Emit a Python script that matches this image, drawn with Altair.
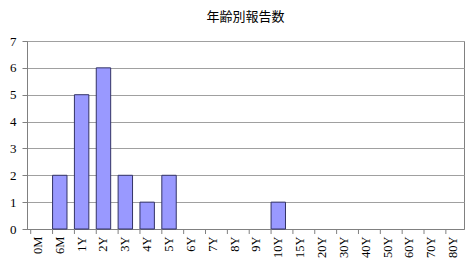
import altair as alt
import pandas as pd

categories = ["0M", "6M", "1Y", "2Y", "3Y", "4Y", "5Y", "6Y", "7Y", "8Y", "9Y", "10Y",
              "15Y", "20Y", "30Y", "40Y", "50Y", "60Y", "70Y", "80Y"]
counts = [0, 2, 5, 6, 2, 1, 2, 0, 0, 0, 0, 1, 0, 0, 0, 0, 0, 0, 0, 0]

df = pd.DataFrame({"age": categories, "count": counts})
SERIF = "Times New Roman, Liberation Serif, serif"

W, H = 437, 188
xscale = alt.Scale(domain=categories, paddingInner=0.34, paddingOuter=0.17)
yscale = alt.Scale(domain=[0, 7])

bars = alt.Chart(df).transform_filter("datum.count > 0").mark_bar(
    color="#9999FF", stroke="#333366", strokeWidth=1).encode(
    x=alt.X("age:N", sort=categories, scale=xscale,
            axis=alt.Axis(title=None, labelAngle=270, labelAlign="right", labelBaseline="middle",
                          labelFont=SERIF, labelFontSize=12.5, labelColor="#000000",
                          ticks=False, domainColor="#808080", labelPadding=7)),
    y=alt.Y("count:Q", scale=yscale,
            axis=alt.Axis(title=None, values=list(range(8)), labelFont=SERIF,
                          labelFontSize=13, labelColor="#000000", gridColor="#A0A0A0",
                          tickColor="#808080", domainColor="#808080", tickSize=5, labelPadding=6)),
)

ticks = alt.Chart(df).mark_rule(color="#808080").encode(
    x=alt.X("age:N", sort=categories, scale=xscale, bandPosition=0),
    y=alt.value(H),
    y2=alt.value(H + 5),
)

chart = alt.layer(bars, ticks).properties(
    width=W, height=H,
    title=alt.TitleParams("年齢別報告数", font="Noto Sans CJK JP", fontSize=13,
                          fontWeight="normal", color="#000000", offset=11, anchor="middle"),
    autosize=alt.AutoSizeParams(type="none"),
    padding={"left": 27, "top": 41, "right": 2, "bottom": 43},
).configure_view(stroke="#808080", strokeWidth=1)

chart.save("out.html", embed_options={"renderer": "svg", "actions": False})
